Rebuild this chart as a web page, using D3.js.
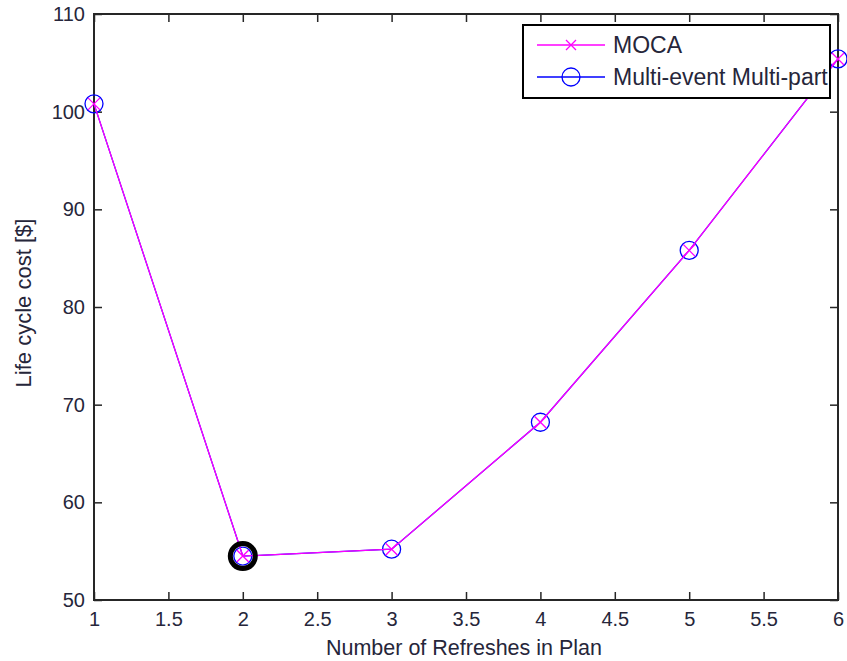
<!DOCTYPE html>
<html>
<head>
<meta charset="utf-8">
<script src="https://cdn.jsdelivr.net/npm/d3@7"></script>
<style>
  body { margin: 0; background: #fff; }
  text { font-family: Arial, "Liberation Sans", sans-serif; fill: #26263a; }
</style>
</head>
<body>
<div id="chart"></div>
<script>
// refreshes in plan and the cost for each method
const refreshes = [1, 2, 3, 4, 5, 6];
const mocaCost = [100.8, 54.5, 55.2, 68.2, 85.8, 105.4];
const multiCost = [100.8, 54.5, 55.2, 68.2, 85.8, 105.4];
const bestRefresh = 2;
const bestCost = 54.5;
const xTicks = [1, 1.5, 2, 2.5, 3, 3.5, 4, 4.5, 5, 5.5, 6];
const yTicks = [50, 60, 70, 80, 90, 100, 110];
const seriesNames = ["MOCA", "Multi-event Multi-part"];

const W = 847, H = 661;
const margin = {top: 14, right: 9, bottom: 61, left: 94};
const width = W - margin.left - margin.right;
const height = H - margin.top - margin.bottom;

const svg = d3.select("#chart").append("svg")
    .attr("width", W)
    .attr("height", H)
    .append("g")
    .attr("transform", "translate(" + margin.left + "," + margin.top + ")");

const x = d3.scaleLinear().domain([1, 6]).range([0, width]);
const y = d3.scaleLinear().domain([50, 110]).range([height, 0]);

// axes, ticks point inward like matlab
const tickLen = 8;
function styleAxis(g) {
    g.select(".domain").remove();
    g.selectAll("line").attr("stroke", "#262626").attr("stroke-width", 1.5);
    g.selectAll("text").style("font-size", "20px");
}
svg.append("g")
    .attr("transform", "translate(0," + height + ")")
    .call(d3.axisBottom(x).tickValues(xTicks).tickSizeInner(-tickLen).tickSizeOuter(0).tickPadding(12).tickFormat(d3.format("")))
    .call(styleAxis);
svg.append("g")
    .call(d3.axisLeft(y).tickValues(yTicks).tickSizeInner(-tickLen).tickSizeOuter(0).tickPadding(9))
    .call(styleAxis);
svg.append("g")
    .call(d3.axisTop(x).tickValues(xTicks).tickSizeInner(-tickLen).tickSizeOuter(0).tickFormat(""))
    .call(styleAxis);
svg.append("g")
    .attr("transform", "translate(" + width + ",0)")
    .call(d3.axisRight(y).tickValues(yTicks).tickSizeInner(-tickLen).tickSizeOuter(0).tickFormat(""))
    .call(styleAxis);

// box around the plot
svg.append("rect")
    .attr("width", width).attr("height", height)
    .attr("fill", "none").attr("stroke", "#262626").attr("stroke-width", 2);

// axis labels
svg.append("text")
    .attr("text-anchor", "middle")
    .attr("x", width / 2 - 2)
    .attr("y", height + 55)
    .style("font-size", "21.5px")
    .text("Number of Refreshes in Plan");
svg.append("text")
    .attr("text-anchor", "middle")
    .attr("transform", "translate(" + (-63) + "," + (height / 2 - 4) + ") rotate(-90)")
    .style("font-size", "22px")
    .text("Life cycle cost [$]");

const line = d3.line().x(d => x(d[0])).y(d => y(d[1]));
const multiPts = refreshes.map((r, i) => [r, multiCost[i]]);
const mocaPts = refreshes.map((r, i) => [r, mocaCost[i]]);

// multi-event line + circles
svg.append("path").datum(multiPts)
    .attr("d", line).attr("fill", "none").attr("stroke", "#0000ff").attr("stroke-width", 1.2);
svg.selectAll(".circ").data(multiPts).enter().append("circle")
    .attr("cx", d => x(d[0])).attr("cy", d => y(d[1])).attr("r", 9)
    .attr("fill", "none").attr("stroke", "#0000ff").attr("stroke-width", 1.3);

// moca line + crosses
svg.append("path").datum(mocaPts)
    .attr("d", line).attr("fill", "none").attr("stroke", "#ff00ff").attr("stroke-width", 1.3);
const cross = (cx, cy, s) => "M" + (cx - s) + "," + (cy - s) + "L" + (cx + s) + "," + (cy + s) +
    "M" + (cx - s) + "," + (cy + s) + "L" + (cx + s) + "," + (cy - s);
svg.selectAll(".cross").data(mocaPts).enter().append("path")
    .attr("d", d => cross(x(d[0]), y(d[1]), 6))
    .attr("stroke", "#ff00ff").attr("stroke-width", 1.3);

// the optimum marked with a thick black ring
svg.append("circle")
    .attr("cx", x(bestRefresh)).attr("cy", y(bestCost)).attr("r", 12.5)
    .attr("fill", "none").attr("stroke", "#000").attr("stroke-width", 5);

// legend
const lg = svg.append("g").attr("transform", "translate(" + (523 - margin.left) + "," + (25 - margin.top) + ")");
lg.append("rect").attr("width", 307).attr("height", 73)
    .attr("fill", "#fff").attr("stroke", "#000").attr("stroke-width", 2);
const colors = ["#ff00ff", "#0000ff"];
seriesNames.forEach((name, i) => {
    const ly = 20 + i * 32;
    lg.append("line").attr("x1", 14).attr("x2", 82).attr("y1", ly).attr("y2", ly)
        .attr("stroke", colors[i]).attr("stroke-width", 1.3);
    if (i == 0) {
        lg.append("path").attr("d", cross(48, ly, 5)).attr("stroke", colors[i]).attr("stroke-width", 1.3);
    } else {
        lg.append("circle").attr("cx", 48).attr("cy", ly).attr("r", 9)
            .attr("fill", "none").attr("stroke", colors[i]).attr("stroke-width", 1.3);
    }
    lg.append("text").attr("x", 90).attr("y", ly).attr("dy", "0.35em")
        .style("font-size", "23px").text(name);
});
</script>
</body>
</html>
